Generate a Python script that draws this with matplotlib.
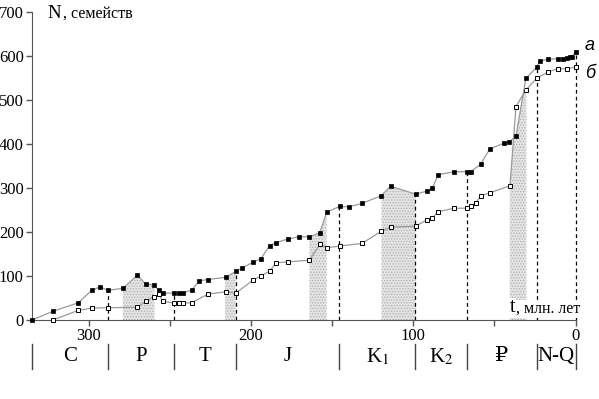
import numpy as np
import matplotlib
matplotlib.use('Agg')
import matplotlib.pyplot as plt

plt.rcParams['font.family'] = ['Liberation Serif', 'DejaVu Serif']
plt.rcParams['mathtext.fontset'] = 'stix'
plt.rcParams['hatch.linewidth'] = 0.6

# age, млн. лет (from old to young)
age_a = [335, 322, 306.5, 298, 293, 288, 279, 270, 265, 260, 257, 254.5, 247.5, 244.5,
         241.7, 236.5, 232, 226.5, 215.7, 209, 205.7, 199, 194, 188.6, 184.5, 177.3,
         170.7, 164, 157.7, 153.4, 145.4, 139.8, 131.6, 120, 113.9, 98.6, 91.5, 88.2,
         84.7, 74.8, 66.8, 64.5, 58.5, 52.8, 44, 40.9, 36.7, 30.6, 24, 21.9, 16.8,
         11, 7.5, 5.4, 3.4, 2, 0]
fam_a = [0, 20, 39, 68, 75, 67.5, 72, 102, 82, 80, 68, 61, 61, 61,
         62, 68, 89, 92, 97, 111, 117.5, 131, 139, 169, 176, 184,
         189, 189, 198, 245, 258, 257, 265, 282, 304, 286, 293, 300,
         330, 337, 337, 337, 354, 389, 402, 404, 418, 549, 574, 589, 592,
         594, 594, 595, 597, 598, 610]

age_b = [322, 306.5, 298, 288, 270, 265, 260, 256.5, 254.5, 247.5, 244.5, 241.7, 236.5,
         226.4, 215.7, 209.4, 199, 194, 188.6, 184.5, 177.3, 164, 157.3, 153.4, 145.4,
         131.6, 119.6, 113.9, 98.6, 91.5, 88.2, 84.7, 74.8, 66.8, 64.5, 61.4, 58.5,
         52.8, 40.4, 36.7, 30.6, 24, 16.8, 11, 5.4, 0]
fam_b = [0, 22, 27, 28, 29, 42.5, 53, 58, 42.5, 38.6, 38.6, 38.6, 39.3,
         59, 64, 61, 90, 100, 111, 130, 132, 136, 173, 164, 168,
         174, 202, 211, 213, 228, 232.5, 246, 254, 254, 259, 266, 282,
         289, 305, 485, 523, 549, 564, 571, 571, 575]

# shaded intervals (start, end, use lower curve)
shade = [(279, 259.5, False), (216, 209.5, False), (164, 153.4, False),
         (119.6, 98.6, False), (40.5, 30.3, True)]

# period boundaries and names
bounds = [335, 288, 247.5, 209, 145.5, 99, 67, 24, 0]
periods = ['C', 'P', 'T', 'J', r'K$_1$', r'K$_2$', '\u20bd', 'N-Q']

fig = plt.figure(figsize=(5.99, 3.99), dpi=100)
ax = fig.add_axes([0.0534, 0.198, 0.9074, 0.772])

ia = np.array(age_a[::-1])
va = np.array(fam_a[::-1])
ib = np.array(age_b[::-1])
vb = np.array(fam_b[::-1])

for x0, x1, low in shade:
    xs = np.linspace(x1, x0, 300)
    top = np.interp(xs, ia, va)
    if low:
        top = np.minimum(top, np.interp(xs, ib, vb))
    ax.fill_between(xs, 0, top, facecolor='#e4e4e4', edgecolor='#b0b0b0',
                    hatch='......', linewidth=0, zorder=1)

for b in bounds[1:]:
    ax.plot([b, b], [0, np.interp(b, ia, va)], color='black', lw=0.9,
            dashes=(3, 2.5), zorder=2, clip_on=False)

ax.plot(age_b, fam_b, color='#9a9a9a', lw=0.9, marker='s', ms=3.4,
        mfc='white', mec='black', mew=0.7, zorder=3, clip_on=False)
ax.plot(age_a, fam_a, color='#9a9a9a', lw=0.9, marker='s', ms=3.2,
        mfc='black', mec='black', mew=0.5, zorder=4, clip_on=False)

ax.set_xlim(335, 0)
ax.set_ylim(0, 700)
ax.set_yticks(range(0, 701, 100))
ax.set_xticks([300, 200, 100, 0])
ax.set_xticks([250, 150, 50], minor=True)
for s in ['top', 'right']:
    ax.spines[s].set_visible(False)
for s in ['left', 'bottom']:
    ax.spines[s].set_color('#555555')
ax.tick_params(direction='out', length=4, width=1, color='#555555',
               labelsize=12, pad=2)
ax.tick_params(which='minor', direction='out', length=4, width=1, color='#555555')

# geological periods under the axis
tr = ax.get_xaxis_transform()
for b in bounds:
    ax.plot([b, b], [-0.078, -0.16], color='#444444', lw=1, transform=tr, clip_on=False)
for i, name in enumerate(periods):
    mid = (bounds[i] + bounds[i + 1]) / 2
    ax.text(mid, -0.12, name, transform=tr, ha='center', va='center', fontsize=15)

fig.text(47 / 599, 1 - 13 / 399, 'N', fontsize=13.5, va='center', ha='left')
fig.text(63 / 599, 1 - 14 / 399, ', семейств', fontsize=11.5, va='center', ha='left')

box = dict(facecolor='white', edgecolor='none', pad=0.5)
fig.text(516 / 599, 1 - 309 / 399, ', млн. лет', fontsize=11.5, va='center', ha='left',
         bbox=box, zorder=5)
fig.text(515 / 599, 1 - 308 / 399, 't', fontsize=14.5, va='center', ha='right',
         bbox=box, zorder=6)

fig.text(590 / 599, 1 - 46 / 399, 'а', fontsize=13, style='italic', family='Liberation Sans',
         va='center', ha='center')
fig.text(590 / 599, 1 - 74 / 399, 'б', fontsize=13, style='italic', family='Liberation Sans',
         va='center', ha='center')

fig.savefig('out.png', dpi=100)
